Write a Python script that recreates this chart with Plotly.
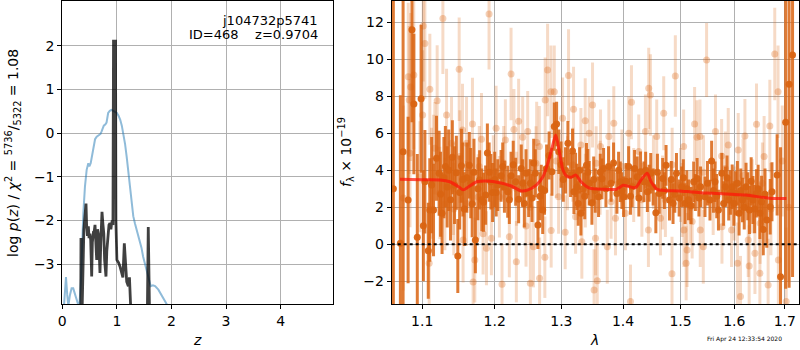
import plotly.graph_objects as go

# ---------------- left panel: p(z) ----------------
pz_z = [0.0, 0.04, 0.067, 0.09, 0.11, 0.14, 0.17, 0.20, 0.24, 0.28, 0.31, 0.34, 0.36, 0.385, 0.415,
        0.446, 0.476, 0.495, 0.52, 0.545, 0.57, 0.60, 0.63, 0.67, 0.70, 0.72, 0.76, 0.79, 0.81, 0.84,
        0.87, 0.90, 0.935, 0.965, 1.00, 1.03, 1.06, 1.09, 1.12, 1.15, 1.18, 1.21, 1.24, 1.27, 1.30,
        1.33, 1.37, 1.42, 1.45, 1.48, 1.52, 1.55, 1.59, 1.62, 1.66, 1.70, 1.76, 1.80, 1.85, 1.91,
        2.0, 2.5, 3.0, 4.0, 4.97]
pz_logp = [-4.5, -3.9, -3.29, -3.7, -3.95, -3.7, -3.55, -3.55, -3.7, -3.85, -4.0, -3.4, -2.6, -1.83, -1.22,
           -0.84, -0.69, -0.76, -0.69, -0.5, -0.30, -0.14, -0.08, -0.05, -0.02, 0.04, 0.17, 0.2, 0.24, 0.46,
           0.51, 0.53, 0.51, 0.49, 0.46, 0.40, 0.31, 0.17, -0.03, -0.25, -0.55, -0.92, -1.3, -1.68, -1.9,
           -2.06, -2.25, -2.44, -2.62, -2.82, -3.02, -3.2, -3.4, -3.5, -3.48, -3.5, -3.58, -3.66, -3.76, -3.9,
           -4.1, -5.5, -6.5, -8.0, -9.0]

chi_z = [0.335, 0.342, 0.350, 0.36, 0.375, 0.395, 0.415, 0.434, 0.445, 0.46, 0.477, 0.49, 0.505, 0.52,
         0.538, 0.55, 0.568, 0.58, 0.599, 0.615, 0.63, 0.645, 0.66, 0.675, 0.69, 0.705, 0.715, 0.727,
         0.745, 0.76, 0.775, 0.80, 0.815, 0.835, 0.855, 0.874, 0.89, 0.90, 0.915, 0.928, 0.938, 0.975,
         0.982, 1.00, 1.03, 1.057, 1.087, 1.11, 1.136, 1.16, 1.18, 1.21, 1.23, 1.25, 1.27, 1.30, 1.50,
         1.555, 1.575, 1.595, 1.62, 2.0, 3.0, 4.97]
chi_logp = [-5.0, -2.4, -3.9, -4.2, -3.2, -2.2, -1.9, -1.61, -2.1, -2.35, -2.13, -2.4, -2.3, -2.44,
            -3.28, -2.5, -2.29, -2.3, -2.1, -2.6, -2.9, -2.2, -2.3, -2.7, -3.2, -2.5, -2.1, -1.8,
            -2.1, -2.3, -2.9, -3.28, -2.7, -2.3, -2.1, -2.06, -2.2, -2.1, -2.0, -2.1, 2.1, 2.1,
            -2.0, -2.9, -2.96, -3.05, -3.2, -3.3, -2.52, -3.1, -3.4, -3.5, -3.3, -3.9, -4.5, -6.0, -6.0,
            -4.5, -2.15, -4.5, -6.0, -7.0, -8.0, -9.0]

# ---------------- right panel: spectrum ----------------
wave_dark = [1.0625, 1.0715, 1.075, 1.0815, 1.0865, 1.089, 1.0935, 1.0985, 1.1035, 1.108, 1.110, 1.115,
             1.119, 1.1225, 1.1265, 1.131, 1.1335, 1.1355, 1.1405, 1.146, 1.148, 1.153, 1.157, 1.1605,
             1.164, 1.168, 1.1725, 1.176, 1.1785, 1.184, 1.187, 1.1895, 1.192, 1.1945,
             1.2000, 1.2044, 1.2092, 1.2141, 1.2189, 1.2238, 1.2306, 1.2350, 1.2389, 1.2410, 1.2460,
             1.2500, 1.2550, 1.2600, 1.2640, 1.2671, 1.2712, 1.2772, 1.2854, 1.2890, 1.2926, 1.2960,
             1.3030, 1.3103, 1.3145, 1.3176, 1.3198, 1.3224, 1.3266, 1.3309, 1.3346, 1.3398, 1.3442,
             1.3486, 1.3540,
             1.3594, 1.3650, 1.3676, 1.3758, 1.3841, 1.3897, 1.3953, 1.4009, 1.4094, 1.4153, 1.4239,
             1.4297, 1.4355, 1.4415, 1.4473, 1.4562, 1.4621, 1.4682, 1.4742, 1.4803, 1.4866, 1.4927,
             1.5020, 1.5082, 1.5145, 1.5239, 1.5302, 1.5365,
             1.5447, 1.5540, 1.5571, 1.5635, 1.5699, 1.5763, 1.5830, 1.5894, 1.5960, 1.6027, 1.6093,
             1.6159, 1.6228, 1.6295, 1.6362, 1.6431, 1.6500, 1.6567, 1.6637, 1.6706, 1.6741, 1.6845,
             1.6914, 1.7019, 1.7089, 1.7160,
             1.3622, 1.3715, 1.3800, 1.3925, 1.3980, 1.4050, 1.4125, 1.4195, 1.4268, 1.4385, 1.4445,
             1.4515, 1.4590, 1.4712, 1.4835, 1.4897, 1.4975, 1.5051, 1.5115, 1.5192, 1.5270, 1.5335,
             1.5493, 1.5605, 1.5667, 1.5797, 1.5862, 1.5927, 1.5993, 1.6060, 1.6126, 1.6193, 1.6262,
             1.6328, 1.6396, 1.6465, 1.6533, 1.6602,
             1.2022, 1.2116, 1.2213, 1.2270, 1.2435, 1.2525, 1.2575, 1.2690, 1.2740, 1.2810, 1.2995,
             1.3065, 1.3245, 1.3288, 1.3370, 1.3420, 1.3515,
             1.1015, 1.1125, 1.1245, 1.1290, 1.1380, 1.1435, 1.1505, 1.1550, 1.1660, 1.1705, 1.1815,
             1.1970]
flux_dark = [3.0, 0.05, 5.0, 2.39, 11.6, 7.58, 0.38, 7.87, 3.38, -0.35, 1.85, 1.85,
             4.65, 3.84, 1.68, 4.2, 3.1, 4.0, 4.7, 3.87, -0.63, 4.25, 1.9, 3.6,
             4.27, 2.18, 0.23, 3.0, 3.48, 2.27, 2.66, 4.93, 3.9, 3.38,
             3.5, 3.2, 3.7, 3.11, 2.84, 3.7, 3.38, 2.43, 4.1, 3.3, 3.84,
             2.77, 2.5, 3.84, 1.04, 2.6, 1.85, 4.1, 3.92, 6.36, 6.5, 5.0,
             3.5, 5.46, 3.75, 5.04, 2.84, 3.75, 2.2, 1.68, 3.0, 4.27, 3.3,
             2.25, 2.9,
             2.57, 3.54, 4.1, 4.2, 4.4, 2.75, 3.38, 2.57, 4.2, 3.11, 3.65,
             3.92, 3.38, 2.84, 3.84, 1.7, 2.75, 3.56, 4.27, 2.39, 2.2, 3.84,
             3.11, 2.2, 2.4, 3.38, 3.56, 3.11,
             2.57, 2.39, 4.5, 3.38, 1.85, 3.84, 3.11, 2.39, 3.11, 2.75, 1.68,
             2.39, 3.11, 1.85, 2.39, 2.75, 1.68, 0.8, 1.31, 2.03, 2.84, 3.75,
             -1.75, 6.6, 8.65, 10.23,
             3.9, 3.0, 3.3, 4.0, 2.9, 3.4, 2.6, 4.1, 2.5, 4.0, 3.3,
             3.1, 3.9, 2.9, 3.5, 2.7, 2.5, 3.6, 3.0, 2.1, 2.8, 2.5,
             3.3, 2.9, 2.6, 2.2, 3.6, 2.8, 2.2, 3.3, 2.9, 2.0, 2.6,
             3.4, 1.9, 3.0, 2.3, 2.7,
             2.8, 4.2, 2.4, 4.3, 2.2, 3.3, 4.4, 3.0, 2.9, 4.8, 4.3,
             4.0, 3.1, 4.0, 2.6, 3.9, 3.5,
             1.0, 3.2, 2.7, 3.6, 2.4, 3.2, 2.8, 3.5, 3.3, 3.9, 2.4,
             2.8]
err_dark = [12, 8, 10, 4.5, 5, 3.8, 4.5, 4, 2.8, 2.6, 2.8, 2.5,
            2.3, 2.3, 2.2, 2.2, 2.2, 2.2, 2.0, 2.0, 2.0, 2.0, 2.0, 1.9,
            1.8, 1.8, 1.8, 1.7, 1.6, 1.6, 1.6, 1.6, 1.6, 1.5,
            1.5, 1.4, 1.4, 1.4, 1.4, 1.3, 1.3, 1.3, 1.3, 1.3, 1.3,
            1.3, 1.3, 1.3, 1.3, 1.3, 1.3, 1.3, 1.3, 1.3, 1.2, 1.2,
            1.2, 1.2, 1.2, 1.2, 1.2, 1.2, 1.2, 1.2, 1.2, 1.2, 1.2,
            1.2, 1.2,
            1.1, 1.1, 1.1, 1.1, 1.1, 1.1, 1.1, 1.1, 1.1, 1.1, 1.1,
            1.1, 1.1, 1.1, 1.1, 1.1, 1.1, 1.1, 1.1, 1.1, 1.1, 1.1,
            1.1, 1.1, 1.1, 1.1, 1.1, 1.1,
            1.1, 1.1, 1.1, 1.1, 1.1, 1.1, 1.1, 1.1, 1.2, 1.2, 1.2,
            1.2, 1.3, 1.3, 1.3, 1.3, 1.4, 1.4, 1.5, 1.5, 1.6, 2.2,
            7.0, 9.0, 11.0, 12.0,
            1.0, 1.0, 1.0, 1.0, 1.0, 1.0, 1.0, 1.0, 1.0, 1.0, 1.0,
            1.0, 1.0, 1.0, 1.0, 1.0, 1.0, 1.0, 1.0, 1.0, 1.0, 1.0,
            1.2, 1.2, 1.2, 1.2, 1.2, 1.2, 1.2, 1.2, 1.2, 1.2, 1.3,
            1.3, 1.3, 1.3, 1.4, 1.4,
            1.3, 1.3, 1.3, 1.3, 1.3, 1.3, 1.3, 1.3, 1.3, 1.3, 1.25,
            1.25, 1.25, 1.25, 1.25, 1.25, 1.25,
            3.0, 2.6, 2.3, 2.2, 2.2, 2.1, 2.0, 2.0, 1.9, 1.8, 1.7,
            1.6]

wave_light = [1.1013, 1.1035, 1.0817, 1.0848, 1.0830, 1.1005, 1.0753, 1.0839, 1.1092, 1.1276, 1.1499,
              1.1101, 1.1199, 1.1326, 1.1545, 1.1684, 1.1811, 1.1168, 1.0969, 1.1235, 1.1553, 1.1693,
              1.1717, 1.1882, 1.1953, 1.1303, 1.1425, 1.1764, 1.1834, 1.1919, 1.1601, 1.1394, 1.1508,
              1.1123, 1.0889,
              1.2238, 1.2787, 1.3113, 1.2838, 1.2890, 1.3496, 1.3192, 1.2750, 1.2350, 1.3378, 1.2020,
              1.2280, 1.2155, 1.2410, 1.2485, 1.2661, 1.3019, 1.3309, 1.3442, 1.2068, 1.2213, 1.2460,
              1.2571, 1.2745, 1.2316, 1.2665, 1.2106, 1.2525, 1.3521, 1.2842, 1.3324, 1.3224, 1.3097,
              1.2957, 1.2610, 1.3060,
              1.4907, 1.4438, 1.4467, 1.4142, 1.4700, 1.5256, 1.3845, 1.3763, 1.3626, 1.4096, 1.4381,
              1.4577, 1.5056, 1.5300, 1.4266, 1.4730, 1.5028, 1.3873, 1.4040, 1.4433, 1.4643, 1.5061,
              1.5211, 1.3545, 1.3737, 1.5119, 1.5101, 1.4847, 1.3573, 1.4125, 1.3555,
              1.5477, 1.6797, 1.6864, 1.6698, 1.6433, 1.6206, 1.5643, 1.5355, 1.5885, 1.6076, 1.6584,
              1.5759, 1.5360, 1.5416, 1.5765, 1.5948, 1.6270, 1.6402, 1.6289, 1.6063, 1.6500, 1.6664,
              1.6120, 1.6870, 1.7030, 1.6505,
              1.115, 1.142, 1.160, 1.178, 1.198, 1.213, 1.232, 1.252, 1.262, 1.292, 1.318,
              1.338, 1.362, 1.380, 1.398, 1.418, 1.432, 1.452, 1.468, 1.485, 1.500, 1.518,
              1.542, 1.560, 1.583, 1.600, 1.617, 1.635, 1.655, 1.672, 1.695, 1.708]
flux_light = [11.8, 10.86, 9.06, 8.5, 7.8, 6.99, 2.5, 4.92, -1.03, 12.2, 9.46,
              8.38, 7.76, 6.99, 6.18, 6.5, 5.68, 5.19, 3.65, 2.77, 0.23, -2.04,
              -0.85, -0.22, 0.32, 2.18, 1.9, 2.56, 0.57, 12.45, 5.46, 5.46, 4.74,
              3.3, 9.15,
              9.2, 9.42, 9.13, 8.25, 8.25, 7.53, 7.3, 7.8, 6.65, 6.68, 6.27,
              6.2, 5.64, 5.78, 6.09, 5.28, 6.81, 5.37, 6.0, 2.57, 0.41, 0.99,
              -0.13, -0.7, -0.94, -1.84, -2.16, -2.11, -2.47, 0.74, 0.14, 1.49, 3.84,
              2.57, 4.38, 0.65,
              9.1, 8.43, 8.07, 7.68, 7.08, 6.5, 6.54, 5.82, 5.28, 6.0, 6.09,
              5.82, 5.28, 5.78, 5.01, 2.39, 2.39, 1.4, 1.68, 0.77, 1.4, 0.77,
              1.23, 0.32, -0.13, -0.31, -1.03, -1.6, -1.97, -3.1, 4.38,
              9.96, 10.29, 8.25, 6.39, 6.49, 5.85, 6.09, 5.82, 5.37, 5.1, 4.74,
              4.77, 0.77, -0.13, 0.95, 0.77, 0.23, -0.49, -1.17, -1.03, -1.57, -2.2,
              -2.83, -0.85, -3.1, 1.14,
              4.5, 3.0, 2.2, 4.2, 3.9, 4.4, 3.0, 2.0, 5.5, 4.5, 4.3,
              2.9, 3.6, 2.3, 4.2, 3.2, 2.4, 3.9, 2.8, 4.3, 3.2, 2.0,
              3.9, 2.5, 4.1, 2.2, 3.7, 2.6, 3.3, 1.9, 4.5, 2.0]
err_light = [3.0, 3.0, 4.0, 4.0, 4.0, 3.5, 5.0, 4.0, 3.0, 3.0, 2.8,
             3.0, 3.0, 2.5, 2.5, 2.5, 2.5, 2.5, 3.0, 2.5, 2.3, 2.3,
             2.3, 2.0, 2.0, 2.5, 2.5, 2.3, 2.2, 3.0, 2.5, 2.5, 2.5,
             3.0, 4.0,
             2.5, 2.5, 2.5, 2.5, 2.5, 2.3, 2.3, 2.3, 2.3, 2.3, 2.3,
             2.2, 2.2, 2.2, 2.2, 2.2, 2.2, 2.0, 2.0, 2.2, 2.2, 2.2,
             2.2, 2.2, 2.2, 2.2, 2.2, 2.2, 2.2, 2.0, 2.0, 2.0, 2.0,
             2.0, 2.0, 2.0,
             2.2, 2.2, 2.2, 2.0, 2.0, 2.0, 2.0, 2.0, 2.0, 2.0, 2.0,
             2.0, 2.0, 2.0, 2.0, 2.0, 2.0, 2.0, 2.0, 2.0, 2.0, 2.0,
             2.0, 2.0, 2.0, 2.0, 2.0, 2.0, 2.0, 2.0, 2.0,
             2.0, 2.5, 2.5, 2.5, 2.2, 2.0, 2.0, 2.0, 2.0, 2.0, 2.2,
             2.0, 2.0, 2.0, 2.0, 2.0, 2.0, 2.2, 2.2, 2.2, 2.5, 2.5,
             2.2, 3.0, 4.0, 2.2,
             2.5, 2.5, 2.3, 2.2, 2.0, 2.0, 2.0, 2.0, 2.2, 2.0, 2.0,
             2.0, 2.0, 2.0, 2.0, 2.0, 2.0, 2.0, 2.0, 2.0, 2.0, 2.0,
             2.0, 2.0, 2.0, 2.0, 2.0, 2.0, 2.2, 2.5, 3.0, 4.0]

model_wave = [1.071, 1.0985, 1.1235, 1.137, 1.149, 1.1555, 1.163, 1.1745, 1.189, 1.2073, 1.224, 1.239,
              1.249, 1.2615, 1.2716, 1.279, 1.286, 1.2913, 1.2973, 1.3025, 1.308, 1.3155, 1.3225, 1.331,
              1.3448, 1.371, 1.3885, 1.400, 1.407, 1.421, 1.4306, 1.4411, 1.448, 1.4585, 1.4979, 1.5363,
              1.559, 1.622, 1.6684, 1.7035]
model_flux = [3.51, 3.49, 3.48, 3.38, 3.11, 2.94, 3.11, 3.38, 3.42, 3.33, 3.15, 2.88,
              2.94, 3.2, 3.65, 4.38, 5.28, 5.91, 4.92, 4.02, 3.69, 3.62, 3.75, 3.38,
              3.03, 2.97, 2.97, 3.19, 3.15, 3.06, 3.48, 3.84, 3.38, 2.97, 2.88, 2.79,
              2.76, 2.66, 2.49, 2.47]

lam_ticks = [1.1, 1.2, 1.3, 1.4, 1.5, 1.6, 1.7]
z_ticks = [0, 1, 2, 3, 4]
logp_ticks = [-3, -2, -1, 0, 1, 2]
flux_ticks = [-2, 0, 2, 4, 6, 8, 10, 12]

ORANGE = "217,100,18"
FONT = "DejaVu Sans"

fig = go.Figure()

fig.add_trace(go.Scatter(x=pz_z, y=pz_logp, mode="lines", xaxis="x", yaxis="y",
                         line=dict(color="rgba(31,119,180,0.5)", width=2), showlegend=False))
fig.add_trace(go.Scatter(x=chi_z, y=chi_logp, mode="lines", xaxis="x", yaxis="y",
                         line=dict(color="rgba(0,0,0,0.75)", width=2.8), showlegend=False))

fig.add_trace(go.Scatter(x=wave_light, y=flux_light, mode="markers", xaxis="x2", yaxis="y2",
                         marker=dict(size=7, color=f"rgba({ORANGE},0.3)", line=dict(width=0)),
                         error_y=dict(type="data", array=err_light, width=0, thickness=3,
                                      color=f"rgba({ORANGE},0.24)"),
                         showlegend=False))
fig.add_trace(go.Scatter(x=wave_dark, y=flux_dark, mode="markers", xaxis="x2", yaxis="y2",
                         marker=dict(size=7, color=f"rgba({ORANGE},0.95)", line=dict(width=0)),
                         error_y=dict(type="data", array=err_dark, width=0, thickness=3,
                                      color=f"rgba({ORANGE},0.85)"),
                         showlegend=False))
fig.add_trace(go.Scatter(x=model_wave, y=model_flux, mode="lines", xaxis="x2", yaxis="y2",
                         line=dict(color="rgba(255,20,10,0.72)", width=3, shape="spline", smoothing=0.7),
                         showlegend=False))

axis_common = dict(showline=True, linecolor="black", linewidth=1, mirror=True,
                   ticks="outside", ticklen=4, tickwidth=1, tickcolor="black",
                   showgrid=True, gridcolor="#b0b0b0", gridwidth=1, zeroline=False,
                   tickfont=dict(family=FONT, size=14, color="black"), automargin=False)

fig.update_layout(
    width=800, height=350, margin=dict(l=0, r=0, t=0, b=0),
    paper_bgcolor="white", plot_bgcolor="white", hovermode=False,
    font=dict(family=FONT, size=14, color="black"),
    xaxis=dict(domain=[0.0779, 0.4166], range=[0, 4.965], tickvals=z_ticks, anchor="y", **axis_common),
    yaxis=dict(domain=[0.1314, 0.9971], range=[-3.908, 3.02], tickvals=logp_ticks, anchor="x", **axis_common),
    xaxis2=dict(domain=[0.4896, 0.9988], type="log", range=[0.025456, 0.2379],
                tickvals=lam_ticks, ticktext=[f"{t:.1f}" for t in lam_ticks], anchor="y2", **axis_common),
    yaxis2=dict(domain=[0.1314, 0.9971], range=[-3.23, 13.15], tickvals=flux_ticks, anchor="x2", **axis_common),
    shapes=[dict(type="line", xref="x2 domain", yref="y2", x0=0, x1=1, y0=0, y1=0,
                 line=dict(color="black", width=2, dash="dot"))],
    annotations=[
        dict(text="j104732p5741", xref="paper", yref="paper", x=320 / 800, y=1 - 20 / 350,
             xanchor="right", yanchor="middle", showarrow=False, font=dict(family=FONT, size=13)),
        dict(text="ID=468\u00a0\u00a0\u00a0\u00a0z=0.9704", xref="paper", yref="paper", x=320 / 800,
             y=1 - 35 / 350, xanchor="right", yanchor="middle", showarrow=False,
             font=dict(family=FONT, size=13)),
        dict(text="<i>z</i>", xref="paper", yref="paper", x=197 / 800, y=1 - 340 / 350,
             xanchor="center", yanchor="middle", showarrow=False, font=dict(family=FONT, size=14)),
        dict(text="<i>λ</i>", xref="paper", yref="paper", x=594 / 800, y=1 - 340 / 350,
             xanchor="center", yanchor="middle", showarrow=False, font=dict(family=FONT, size=14)),
        dict(text="log <i>p</i>(<i>z</i>) / <i>χ</i><sup>2</sup> = <sup>5736</sup>/<sub>5322</sub> = 1.08",
             xref="paper", yref="paper", x=13 / 800, y=1 - 153 / 350, textangle=-90,
             xanchor="center", yanchor="middle", showarrow=False, font=dict(family=FONT, size=14)),
        dict(text="<i>f</i><sub>λ</sub> × 10<sup>−19</sup>", xref="paper", yref="paper",
             x=346 / 800, y=1 - 152 / 350, textangle=-90, xanchor="center", yanchor="middle",
             showarrow=False, font=dict(family=FONT, size=14)),
        dict(text="Fri Apr 24 12:33:54 2020", xref="paper", yref="paper", x=744 / 800, y=1 - 339 / 350,
             xanchor="center", yanchor="middle", showarrow=False, font=dict(family=FONT, size=6)),
    ],
)

fig.write_html("out.html", config={"displayModeBar": False, "staticPlot": True},
               post_script="document.body.style.margin='0';document.body.style.overflow='hidden';")
